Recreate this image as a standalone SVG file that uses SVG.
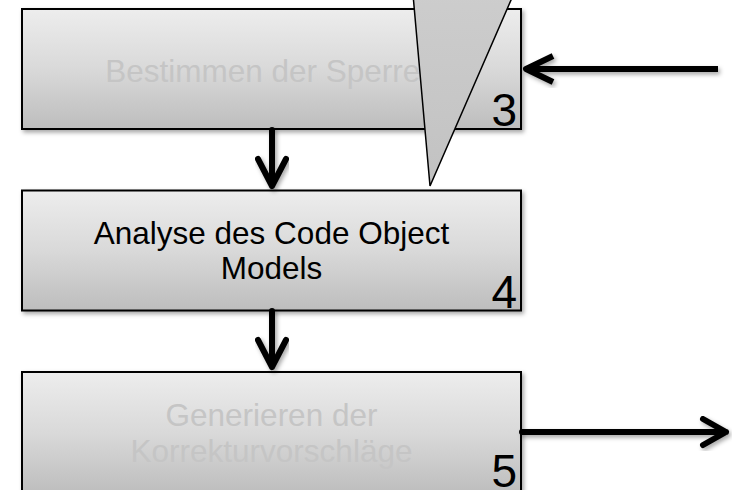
<svg xmlns="http://www.w3.org/2000/svg" width="732" height="490" viewBox="0 0 732 490">
  <defs>
    <linearGradient id="boxFill" x1="0" y1="0" x2="0" y2="1">
      <stop offset="0" stop-color="#ededed"/>
      <stop offset="0.5" stop-color="#d9d9d9"/>
      <stop offset="1" stop-color="#bdbdbd"/>
    </linearGradient>
    <linearGradient id="callFill" x1="0" y1="0" x2="0" y2="1">
      <stop offset="0" stop-color="#cdcdcd"/>
      <stop offset="1" stop-color="#c2c2c2"/>
    </linearGradient>
    <filter id="shadow" x="-10%" y="-10%" width="120%" height="130%">
      <feDropShadow dx="2" dy="2.5" stdDeviation="2" flood-color="#000" flood-opacity="0.35"/>
    </filter>
  </defs>
  <style>
    .box { fill: url(#boxFill); stroke: #000; stroke-width: 2; filter: url(#shadow); }
    .label { font-family: "Liberation Sans", Arial, sans-serif; font-size: 31.5px; text-anchor: middle; }
    .dim { fill: #c5c5c5; }
    .dark { fill: #000; }
    .num { font-family: "Liberation Sans", Arial, sans-serif; font-size: 46px; text-anchor: end; fill: #000; }
    .conn { fill: none; stroke: #000; stroke-width: 6; stroke-linecap: round; stroke-linejoin: round; filter: url(#shadow); }
    .callout { fill: url(#callFill); stroke: #000; stroke-width: 1.5; stroke-linejoin: miter; }
  </style>

  <!-- process step 3 -->
  <g id="step3">
    <rect class="box" x="22" y="9" width="499" height="120"/>
    <text class="label dim" x="271.5" y="81.5">Bestimmen der Sperren</text>
    <text class="num" x="517" y="126">3</text>
  </g>

  <!-- process step 4 -->
  <g id="step4">
    <rect class="box" x="22" y="190.5" width="499" height="120"/>
    <text class="label dark" x="271.5" y="243.5">Analyse des Code Object</text>
    <text class="label dark" x="271.5" y="278.5">Models</text>
    <text class="num" x="517" y="307.5">4</text>
  </g>

  <!-- process step 5 -->
  <g id="step5">
    <rect class="box" x="22" y="372" width="499" height="122"/>
    <text class="label dim" x="271.5" y="426">Generieren der</text>
    <text class="label dim" x="271.5" y="461.5">Korrekturvorschläge</text>
    <text class="num" x="517" y="487">5</text>
  </g>

  <!-- connectors -->
  <g id="connectors">
    <path class="conn" d="M272 130 V186 M258 159 L272 186 L286 159"/>
    <path class="conn" d="M272 311 V367 M258 340 L272 367 L286 340"/>
    <path class="conn" d="M718 69 H526 M553 56 L526 69 L553 82" style="stroke-linecap:butt"/>
    <path class="conn" d="M522 432 H726 M703 419 L726 432 L703 445"/>
  </g>

  <!-- pointer callout over step 3 -->
  <g id="callout">
    <polygon class="callout" points="412.6,-10 515.4,-10 430,186"/>
  </g>
</svg>
